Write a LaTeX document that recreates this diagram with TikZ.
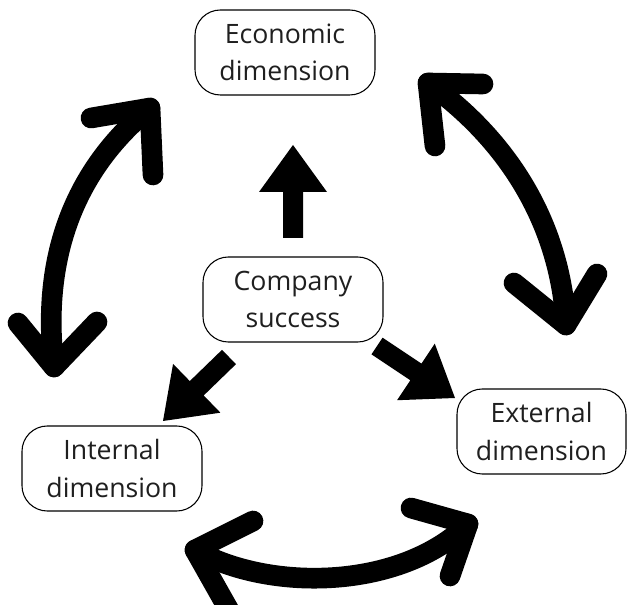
\documentclass[tikz,border=0pt]{standalone}
\usepackage{fontspec}
\setmainfont{Open Sans}
\usetikzlibrary{calc}
\tikzset{
  dimbox/.style={draw=black, line width=0.8pt, rounded corners=19pt, minimum width=135pt, minimum height=63.75pt, align=center, inner sep=0pt, font=\fontsize{20}{28}\selectfont, text=black!88},
  swoosh/.style={line width=15.5pt, line cap=round, line join=round, black},
}
\newcommand\fatarrow[2]{%
  \coordinate (h) at ($(#2)!35.25pt!(#1)$);
  \fill[black] ($(#1)!7.5pt!90:(#2)$) -- ($(h)!7.5pt!-90:(#1)$) -- ($(h)!25.5pt!-90:(#1)$) -- (#2) -- ($(h)!25.5pt!90:(#1)$) -- ($(h)!7.5pt!90:(#1)$) -- ($(#1)!7.5pt!-90:(#2)$) -- cycle;}
\begin{document}
\begin{tikzpicture}[x=0.75pt, y=-0.75pt]
\clip (0,0) rectangle (628,605);
\fill[white] (0,0) rectangle (628,605);
% boxes
\node[dimbox] (eco) at (285,52.5) {Economic\\dimension};
\node[dimbox] (comp) at (293,299.5) {Company\\success};
\node[dimbox] (int) at (112,468.5) {Internal\\dimension};
\node[dimbox, minimum width=126.75pt] (ext) at (541.5,431.5) {External\\dimension};
% straight fat arrows
\coordinate (u1) at (293,238);
\coordinate (u2) at (293,145);
\fatarrow{u1}{u2}
\coordinate (l1) at (229,357);
\coordinate (l2) at (163,421);
\fatarrow{l1}{l2}
\coordinate (r1) at (377,346);
\coordinate (r2) at (455,398);
\fatarrow{r1}{r2}
% left swoosh
\coordinate (la) at (150,108);
\coordinate (lb) at (54,367);
\draw[swoosh] (lb) .. controls (40,250) and (80,165) .. (la);
\coordinate (la1) at (91,118);
\coordinate (la2) at (153,175);
\coordinate (lb1) at (18,323);
\coordinate (lb2) at (97,322);
\draw[swoosh] (la1) -- (la) -- (la2);
\draw[swoosh] (lb1) -- (lb) -- (lb2);
% right swoosh
\coordinate (ra) at (428,83);
\coordinate (rb) at (566,325);
\draw[swoosh] (ra) .. controls (505,138) and (560,220) .. (rb);
\coordinate (ra1) at (483,84);
\coordinate (ra2) at (435,146);
\coordinate (rb1) at (514,283);
\coordinate (rb2) at (597,274);
\draw[swoosh] (ra1) -- (ra) -- (ra2);
\draw[swoosh] (rb1) -- (rb) -- (rb2);
% bottom swoosh
\coordinate (ba) at (195,550);
\coordinate (bb) at (468,524);
\draw[swoosh] (ba) .. controls (270,592) and (400,590) .. (bb);
\coordinate (ba1) at (253,521);
\coordinate (ba2) at (230,612);
\coordinate (bb1) at (411,508);
\coordinate (bb2) at (450,576);
\draw[swoosh] (ba1) -- (ba) -- (ba2);
\draw[swoosh] (bb1) -- (bb) -- (bb2);
\end{tikzpicture}
\end{document}
